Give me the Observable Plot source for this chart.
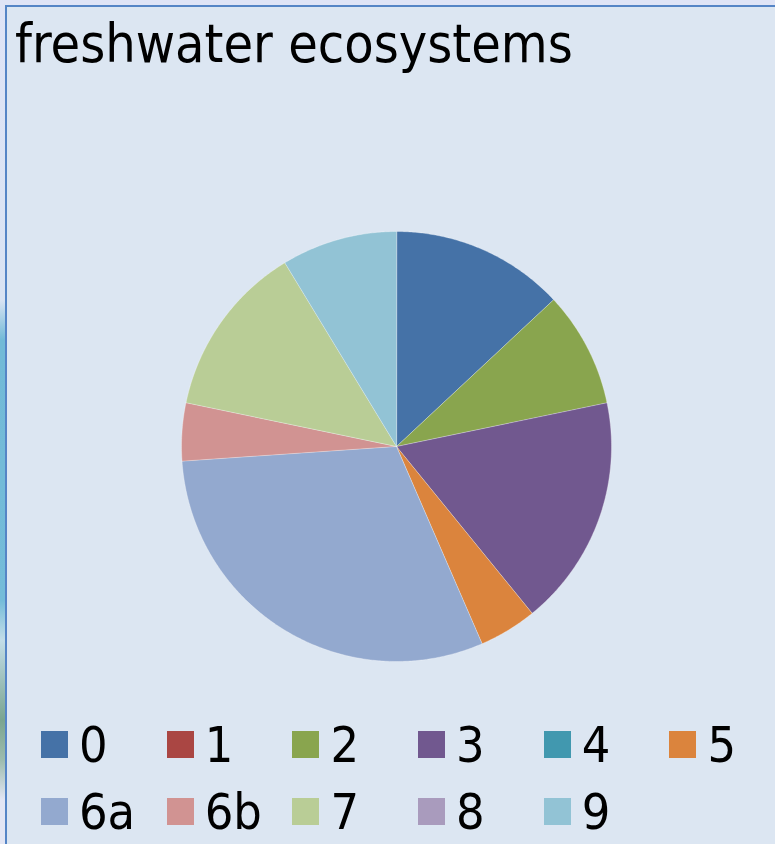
<!DOCTYPE html>
<html>
<head>
<meta charset="utf-8">
<script src="https://cdn.jsdelivr.net/npm/d3@7"></script>
<script src="https://cdn.jsdelivr.net/npm/@observablehq/plot@0.6"></script>
<style>
  html, body { margin: 0; padding: 0; }
  body {
    width: 775px; height: 844px; overflow: hidden; position: relative;
    background: linear-gradient(to bottom, #dfe4f6 0px, #d9e3f3 300px, #72bad7 340px, #74bcd9 600px, #c3dde8 640px, #7aa590 720px, #9dbcae 760px, #e3e6f4 800px);
    font-family: "DejaVu Sans", Verdana, sans-serif;
    font-stretch: condensed;
  }
  #box {
    position: absolute; left: 5px; top: 5px; width: 780px; height: 850px;
    background: #dce6f2;
    border-left: 2px solid #5585c6; border-top: 2px solid #5585c6;
  }
  #title {
    position: absolute; left: 15px; top: 17px; margin: 0;
    font-size: 53.5px; line-height: 1; font-weight: normal; color: #000;
    white-space: nowrap;
  }
  #chart { position: absolute; left: 0; top: 0; }
  #legend { position: absolute; left: 41px; top: 711px; width: 760px; }
  #legend .pie-swatches { font-size: 50px !important; font-family: inherit !important; font-stretch: condensed; color: #000; margin: 0 !important; min-height: 0 !important; }
  #legend .pie-swatch { width: 125.7px; height: 67px; margin-right: 0 !important; }
  #legend .pie-swatch > svg { margin-right: 11px !important; }
</style>
</head>
<body>
<div id="box"></div>
<h1 id="title">freshwater ecosystems</h1>
<div id="chart"></div>
<div id="legend"></div>
<script>
// Categories, counts and slice colours
const categories = ["0", "1", "2", "3", "4", "5", "6a", "6b", "7", "8", "9"];
const counts     = [3, 0, 2, 4, 0, 1, 7, 1, 3, 0, 2];
const colors     = ["#4572a7", "#aa4643", "#89a54e", "#71588f", "#4198af", "#db843d",
                    "#93a9cf", "#d19392", "#b9cd96", "#a99bbd", "#92c3d5"];

const data = categories.map((key, i) => ({key, value: counts[i]}));

// Pie angles: start at 12 o'clock, clockwise, in data order
const arcs = d3.pie().sort(null).value(d => d.value)(data);

// Each slice becomes a closed polygon (centre + arc) in unit-radius coordinates
const pts = [];
for (const a of arcs) {
  if (a.endAngle - a.startAngle <= 0) continue;
  const n = Math.max(2, Math.ceil((a.endAngle - a.startAngle) / (Math.PI / 360)));
  pts.push({key: a.data.key, x: 0, y: 0});
  for (let i = 0; i <= n; i++) {
    const t = a.startAngle + (a.endAngle - a.startAngle) * i / n;
    pts.push({key: a.data.key, x: Math.sin(t), y: Math.cos(t)});
  }
}

const color = {type: "ordinal", domain: categories, range: colors};

const chart = Plot.plot({
  width: 775,
  height: 700,
  marginLeft: 181,
  marginRight: 164,
  marginTop: 231,
  marginBottom: 39,
  x: {domain: [-1, 1], axis: null},
  y: {domain: [-1, 1], axis: null},
  color,
  style: {background: "transparent", overflow: "visible"},
  marks: [
    Plot.line(pts, {
      x: "x", y: "y", z: "key", fill: "key",
      stroke: "#ffffff", strokeWidth: 0.7, strokeOpacity: 0.45,
      curve: "linear-closed"
    })
  ]
});
document.getElementById("chart").appendChild(chart);

const legend = Plot.legend({
  color,
  legend: "swatches",
  className: "pie",
  swatchSize: 27
});
document.getElementById("legend").appendChild(legend);
</script>
</body>
</html>
